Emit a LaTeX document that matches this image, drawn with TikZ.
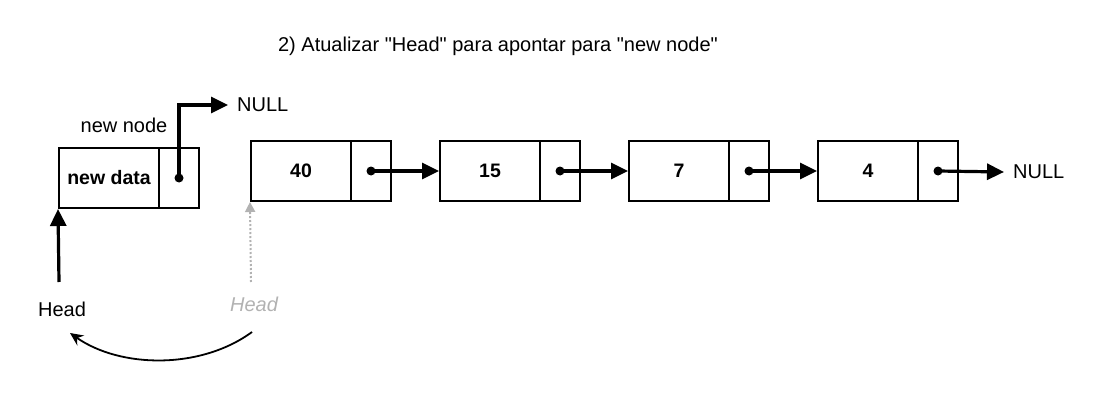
\documentclass[tikz,border=0pt]{standalone}
\usepackage{fontspec}
\setmainfont{Liberation Sans}
\usetikzlibrary{arrows.meta,positioning}

\begin{document}
\begin{tikzpicture}[x=1pt,y=-1pt,
  cell/.style={draw, line width=2pt, minimum height=60pt, inner sep=0pt},
  datacell/.style={cell, minimum width=100pt, font=\fontsize{19.5}{23}\selectfont\bfseries},
  ptrcell/.style={cell, minimum width=40pt},
  ptr/.style={line width=3.2pt, -{Triangle[length=17pt,width=16pt]}},
  lbl/.style={inner sep=2pt, font=\fontsize{20}{24}\selectfont}]
\useasboundingbox (0,0) rectangle (1116,409);
\node (title) at (498,46) [font=\fontsize{20}{24}\selectfont] {2) Atualizar \textquotedbl Head\textquotedbl{} para apontar para \textquotedbl new node\textquotedbl};
% the new node
\node (d-new) at (109,178) [datacell] {new data};
\node (p-new) at (179,178) [ptrcell] {};
\node (l-new) at (124,125) [lbl] {new node};
\node (null-a) at (228,105) [lbl,inner xsep=9pt,anchor=west] {NULL};
% the list
\node (d-40) at (301,171) [datacell] {40};
\node (p-40) at (371,171) [ptrcell] {};
\node (d-15) at (490,171) [datacell] {15};
\node (p-15) at (560,171) [ptrcell] {};
\node (d-7) at (679,171) [datacell] {7};
\node (p-7) at (749,171) [ptrcell] {};
\node (d-4) at (868,171) [datacell] {4};
\node (p-4) at (938,171) [ptrcell] {};
\node (null-b) at (1004,172) [lbl,inner xsep=9pt,anchor=west] {NULL};
% heads
\node (head) at (62,309) [lbl] {Head};
\node (old-head) at (254,304) [lbl,text=black!30,font=\fontsize{20}{24}\selectfont\itshape] {Head};
\coordinate (head-tail) at (59,282);
\coordinate (old-tail) at (251,282);
\coordinate (move-a) at (252,332);
\coordinate (move-b) at (70,333);
\foreach \p in {new,40,15,7,4} \fill (p-\p.center) circle (4.5pt);
\draw[ptr] (p-new.center) |- (null-a.west);
\draw[ptr] (p-40.center) -- (d-15);
\draw[ptr] (p-15.center) -- (d-7);
\draw[ptr] (p-7.center) -- (d-4);
\draw[ptr] (p-4.center) -- (null-b.west);
\draw[ptr] (head-tail) -- (d-new.south west);
\draw[line width=2pt, black!30, dotted, -{Triangle[length=10pt,width=10pt]}] (old-tail) -- (d-40.south west);
\draw[line width=1.8pt, -{Stealth[length=13pt,width=12pt]}] (move-a) .. controls (200,370) and (120,368) .. (move-b);
\end{tikzpicture}
\end{document}
